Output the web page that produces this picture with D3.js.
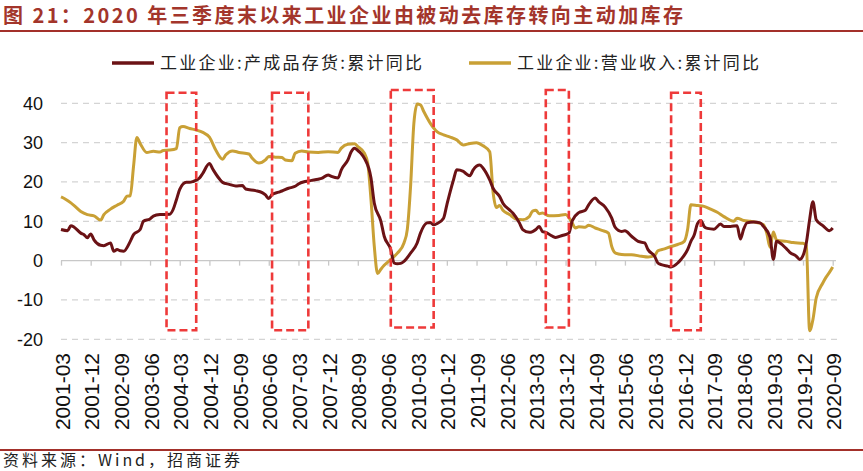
<!DOCTYPE html>
<html>
<head>
<meta charset="utf-8">
<script src="https://cdn.jsdelivr.net/npm/d3@7"></script>
<style>
  body { margin: 0; background: #fff; }
  svg { display: block; }
</style>
</head>
<body>
<div id="vis1"></div>
<script>
// frame size
const FRAME_HEIGHT = 471;
const FRAME_WIDTH = 863;
const MARGINS = {left: 61, right: 30, top: 103, bottom: 132};

// data
const TITLE = "图 21：2020 年三季度末以来工业企业由被动去库存转向主动加库存";
const SOURCE = "资料来源：Wind，招商证券";
const SERIES_NAMES = ["工业企业:产成品存货:累计同比", "工业企业:营业收入:累计同比"];
const SERIES_COLORS = ["#6b1215", "#c9a035"];

const TICK_LABELS = ["2001-03", "2001-12", "2002-09", "2003-06", "2004-03", "2004-12",
  "2005-09", "2006-06", "2007-03", "2007-12", "2008-09", "2009-06", "2010-03", "2010-12",
  "2011-09", "2012-06", "2013-03", "2013-12", "2014-09", "2015-06", "2016-03", "2016-12",
  "2017-09", "2018-06", "2019-03", "2019-12", "2020-09"];
const Y_TICKS = [-20, -10, 0, 10, 20, 30, 40];

// 产成品存货 累计同比
const INV_DATES = ["2001-03","2001-05","2001-06","2001-07","2001-09","2001-10","2001-11","2001-12",
  "2002-01","2002-03","2002-04","2002-06","2002-07","2002-08","2002-09","2002-10","2002-12",
  "2003-01","2003-03","2003-04","2003-06","2003-07","2003-09","2003-12","2004-01","2004-02",
  "2004-03","2004-05","2004-06","2004-07","2004-09","2004-10","2004-12","2005-01","2005-03",
  "2005-04","2005-06","2005-08","2005-10","2005-11","2006-02","2006-04","2006-05","2006-06",
  "2006-07","2006-09","2006-10","2006-12","2007-02","2007-03","2007-05","2007-07","2007-09",
  "2007-10","2007-12","2008-01","2008-03","2008-04","2008-06","2008-07","2008-08","2008-09",
  "2008-10","2008-11","2009-01","2009-02","2009-04","2009-05","2009-07","2009-08","2009-09",
  "2009-10","2009-11","2010-01","2010-03","2010-04","2010-06","2010-07","2010-08","2010-09",
  "2010-11","2010-12","2011-01","2011-02","2011-03","2011-05","2011-06","2011-07","2011-08",
  "2011-10","2011-11","2012-01","2012-02","2012-04","2012-05","2012-07","2012-08","2012-10",
  "2012-11","2013-01","2013-02","2013-03","2013-04","2013-05","2013-06","2013-08","2013-09",
  "2013-11","2014-01","2014-02","2014-04","2014-06","2014-07","2014-09","2014-10","2014-12",
  "2015-02","2015-03","2015-05","2015-06","2015-08","2015-10","2015-12","2016-01","2016-03",
  "2016-04","2016-05","2016-07","2016-08","2016-10","2016-11","2017-01","2017-02","2017-03",
  "2017-04","2017-05","2017-06","2017-07","2017-09","2017-11","2017-12","2018-02","2018-04",
  "2018-05","2018-06","2018-07","2018-09","2018-11","2018-12","2019-02","2019-03","2019-04",
  "2019-05","2019-07","2019-08","2019-10","2019-11","2019-12","2020-01","2020-02","2020-03",
  "2020-04","2020-06","2020-08","2020-09"];
const INV_VALUES = [7.9,7.6,8.9,8.5,7.0,6.6,5.8,6.8,
  5.3,3.9,3.8,4.5,2.4,2.8,2.5,2.4,4.9,
  6.6,7.9,10.0,10.6,11.3,11.7,11.8,13.0,15.5,
  18.1,19.9,19.9,20.1,21.0,22.2,24.7,23.3,20.8,
  19.9,19.4,19.0,19.1,18.2,17.8,17.3,16.7,15.8,
  16.8,17.4,17.7,18.4,18.9,19.5,20.1,20.4,20.7,
  20.9,21.8,21.4,21.0,23.1,25.6,27.7,28.6,28.0,
  27.2,26.0,21.0,14.6,10.0,6.2,2.8,-0.6,-0.8,
  -0.7,-0.2,1.9,4.5,7.0,9.6,9.7,9.1,9.4,
  10.8,14.2,17.5,20.5,23.1,22.7,22.0,21.6,23.1,
  24.3,23.5,20.5,18.4,16.3,14.6,12.9,12.1,9.6,
  7.9,7.2,7.4,7.9,8.7,7.4,7.2,6.2,5.9,
  6.4,7.0,10.1,12.2,12.8,14.2,15.9,15.0,13.6,
  10.8,8.5,7.4,7.6,6.2,4.9,4.5,2.8,1.1,
  -0.6,-1.0,-1.4,-1.6,-0.6,0.3,2.8,4.9,6.5,
  9.4,10.2,8.7,8.2,8.0,9.3,8.7,8.7,8.9,
  5.5,8.0,9.6,9.8,9.6,8.7,6.0,0.3,4.9,
  4.5,3.0,2.1,1.1,0.3,1.3,4.5,10.4,15.0,
  10.4,8.9,7.6,8.3];

// 营业收入 累计同比
const REV_DATES = ["2001-03","2001-04","2001-07","2001-09","2001-11","2002-01","2002-03","2002-04",
  "2002-06","2002-08","2002-10","2002-11","2002-12","2003-01","2003-02","2003-03","2003-05",
  "2003-07","2003-09","2003-10","2003-12","2004-02","2004-03","2004-04","2004-06","2004-08",
  "2004-10","2004-12","2005-02","2005-04","2005-05","2005-07","2005-09","2005-12","2006-01",
  "2006-03","2006-05","2006-06","2006-08","2006-10","2006-11","2007-01","2007-02","2007-04",
  "2007-06","2007-09","2007-12","2008-03","2008-04","2008-06","2008-08","2008-09","2008-11",
  "2008-12","2009-01","2009-02","2009-03","2009-04","2009-05","2009-07","2009-09","2009-11",
  "2009-12","2010-01","2010-02","2010-03","2010-04","2010-05","2010-07","2010-09","2010-11",
  "2011-01","2011-03","2011-05","2011-07","2011-09","2011-11","2012-01","2012-02","2012-03",
  "2012-04","2012-05","2012-07","2012-09","2012-11","2013-01","2013-02","2013-03","2013-04",
  "2013-05","2013-07","2013-10","2013-12","2014-02","2014-03","2014-04","2014-06","2014-07",
  "2014-09","2014-11","2015-01","2015-02","2015-03","2015-04","2015-06","2015-08","2015-11",
  "2016-01","2016-03","2016-04","2016-06","2016-08","2016-10","2016-12","2017-01","2017-02",
  "2017-04","2017-06","2017-08","2017-10","2017-12","2018-03","2018-04","2018-06","2018-08",
  "2018-10","2018-12","2019-01","2019-02","2019-03","2019-04","2019-07","2019-09","2019-12",
  "2020-01","2020-02","2020-03","2020-04","2020-06","2020-07","2020-08","2020-09"];
const REV_VALUES = [16.2,15.8,14.0,12.5,11.7,11.4,10.3,11.7,
  13.1,14.1,15.1,16.4,16.5,24.0,31.3,29.8,27.5,
  27.8,27.6,28.0,28.1,28.5,33.8,34.1,33.6,33.2,
  32.6,31.4,28.0,25.8,26.9,27.9,27.5,27.1,26.0,
  24.8,25.6,26.5,26.3,26.2,25.6,25.4,27.3,27.9,
  27.6,27.5,27.7,27.5,28.6,29.6,29.7,29.0,27.3,
  24.8,15.5,3.6,-3.3,-2.2,-1.2,0.3,1.9,4.5,
  7.9,18.9,34.9,39.8,39.6,37.9,34.9,32.8,32.0,
  31.4,30.7,29.4,29.8,30.0,29.2,27.7,17.5,13.5,
  14.0,12.8,11.7,10.6,10.4,11.2,12.6,12.8,11.9,
  12.1,11.4,11.5,11.7,9.6,8.3,8.6,8.5,9.0,
  8.3,7.7,7.0,3.6,2.0,1.7,1.5,1.5,1.1,
  0.9,1.3,2.5,3.0,3.6,4.1,4.9,7.9,14.2,
  14.0,13.8,13.1,12.3,11.2,10.0,10.8,10.2,10.0,
  9.7,9.1,7.0,3.4,7.3,5.2,4.9,4.6,4.4,
  3.8,-17.8,-15.0,-9.5,-5.7,-4.2,-3.0,-1.6];

// red dashed boxes (annotation ranges)
const BOX_START = ["2003-11", "2006-07", "2009-07", "2013-06", "2016-08"];
const BOX_END = ["2004-08", "2007-06", "2010-08", "2014-01", "2017-05"];
const BOX_TOP = [42.7, 42.7, 43.4, 43.4, 42.7];
const BOX_BOTTOM = [-17.7, -17.7, -17.0, -17.0, -17.7];

// turn "YYYY-MM" into months since 2001-03
function monthIndex(s) {
  const parts = s.split("-");
  return (parseInt(parts[0]) - 2001) * 12 + parseInt(parts[1]) - 3;
}

const FRAME1 = d3.select("#vis1")
                  .append("svg")
                    .attr("height", FRAME_HEIGHT)
                    .attr("width", FRAME_WIDTH)
                    .attr("class", "frame");

const X_SCALE = d3.scaleLinear()
                  .domain([0, monthIndex("2020-09")])
                  .range([MARGINS.left, MARGINS.left + 771.7]);

const Y_SCALE = d3.scaleLinear()
                  .domain([-20, 40])
                  .range([339.3, 103.3]);

const CJK = "'Noto Sans CJK SC', 'Noto Sans', sans-serif";
const LATIN = "'Liberation Sans', Arial, sans-serif";
const RED_LINE = "#a3302a";

// title + rule under it
FRAME1.append("text")
  .attr("x", 3)
  .attr("y", 23)
  .attr("font-family", CJK)
  .attr("font-weight", "bold")
  .attr("font-size", "20px")
  .attr("fill", "#a3352b")
  .attr("textLength", 680)
  .attr("lengthAdjust", "spacing")
  .text(TITLE);

FRAME1.append("line")
  .attr("x1", 0).attr("x2", FRAME_WIDTH)
  .attr("y1", 31).attr("y2", 31)
  .attr("stroke", RED_LINE)
  .attr("stroke-width", 2);

// legend
const LEGEND_X = [112, 469];
const LEGEND_TEXT_LEN = [262, 242];
SERIES_NAMES.forEach((name, i) => {
  FRAME1.append("line")
    .attr("x1", LEGEND_X[i]).attr("x2", LEGEND_X[i] + 42)
    .attr("y1", 63).attr("y2", 63)
    .attr("stroke", SERIES_COLORS[i])
    .attr("stroke-width", 3.5);
  FRAME1.append("text")
    .attr("x", LEGEND_X[i] + 48)
    .attr("y", 63)
    .attr("dy", "0.36em")
    .attr("font-family", CJK)
    .attr("font-size", "17px")
    .attr("fill", "#222")
    .attr("textLength", LEGEND_TEXT_LEN[i])
    .attr("lengthAdjust", "spacing")
    .text(name);
});

// dashed gridlines (not at zero)
FRAME1.append("g")
  .selectAll("line")
  .data(Y_TICKS.filter(d => d !== 0))
  .enter()
  .append("line")
    .attr("x1", MARGINS.left)
    .attr("x2", 837)
    .attr("y1", d => Y_SCALE(d))
    .attr("y2", d => Y_SCALE(d))
    .attr("stroke", "#d4d4d4")
    .attr("stroke-width", 1.2)
    .attr("stroke-dasharray", "6,5");

// y labels
FRAME1.append("g")
  .selectAll("text")
  .data(Y_TICKS)
  .enter()
  .append("text")
    .attr("x", 43)
    .attr("y", d => Y_SCALE(d))
    .attr("dy", "0.36em")
    .attr("text-anchor", "end")
    .attr("font-family", LATIN)
    .attr("font-size", "18px")
    .attr("fill", "#111")
    .text(d => d);

// zero axis with ticks below
const xAxis = d3.axisBottom(X_SCALE)
                .tickValues(TICK_LABELS.map(monthIndex))
                .tickSize(5)
                .tickFormat("");
const AXIS_G = FRAME1.append("g")
  .attr("transform", "translate(0," + Y_SCALE(0) + ")")
  .call(xAxis);
AXIS_G.select(".domain").attr("stroke", "#c8c8c8").attr("stroke-width", 1.3)
  .attr("d", "M" + MARGINS.left + ",0H836");
AXIS_G.selectAll(".tick line").attr("stroke", "#c8c8c8").attr("stroke-width", 1.3);

// rotated x labels
FRAME1.append("g")
  .selectAll("text")
  .data(TICK_LABELS)
  .enter()
  .append("text")
    .attr("transform", d => "translate(" + (X_SCALE(monthIndex(d)) + 8.5) + ",353) rotate(-90)")
    .attr("text-anchor", "end")
    .attr("font-family", LATIN)
    .attr("font-size", "21px")
    .attr("fill", "#111")
    .text(d => d);

// the two lines
const line = d3.line()
               .x(d => X_SCALE(monthIndex(d[0])))
               .y(d => Y_SCALE(d[1]))
               .curve(d3.curveMonotoneX);

const SERIES = [d3.zip(INV_DATES, INV_VALUES), d3.zip(REV_DATES, REV_VALUES)];
// draw revenue first so inventory sits on top
[1, 0].forEach(i => {
  FRAME1.append("path")
    .datum(SERIES[i])
    .attr("d", line)
    .attr("fill", "none")
    .attr("stroke", SERIES_COLORS[i])
    .attr("stroke-width", 3)
    .attr("stroke-linejoin", "round");
});

// red dashed boxes
FRAME1.append("g")
  .selectAll("rect")
  .data(d3.range(BOX_START.length))
  .enter()
  .append("rect")
    .attr("x", i => X_SCALE(monthIndex(BOX_START[i])))
    .attr("y", i => Y_SCALE(BOX_TOP[i]))
    .attr("width", i => X_SCALE(monthIndex(BOX_END[i])) - X_SCALE(monthIndex(BOX_START[i])))
    .attr("height", i => Y_SCALE(BOX_BOTTOM[i]) - Y_SCALE(BOX_TOP[i]))
    .attr("fill", "none")
    .attr("stroke", "#ee3a3a")
    .attr("stroke-width", 2.6)
    .attr("stroke-dasharray", "8,4");

// bottom rule + source
FRAME1.append("line")
  .attr("x1", 0).attr("x2", FRAME_WIDTH)
  .attr("y1", 450).attr("y2", 450)
  .attr("stroke", RED_LINE)
  .attr("stroke-width", 2);

FRAME1.append("text")
  .attr("x", 3)
  .attr("y", 460)
  .attr("dy", "0.36em")
  .attr("font-family", CJK)
  .attr("font-size", "16px")
  .attr("fill", "#222")
  .attr("textLength", 237)
  .attr("lengthAdjust", "spacing")
  .text(SOURCE);
</script>
</body>
</html>
